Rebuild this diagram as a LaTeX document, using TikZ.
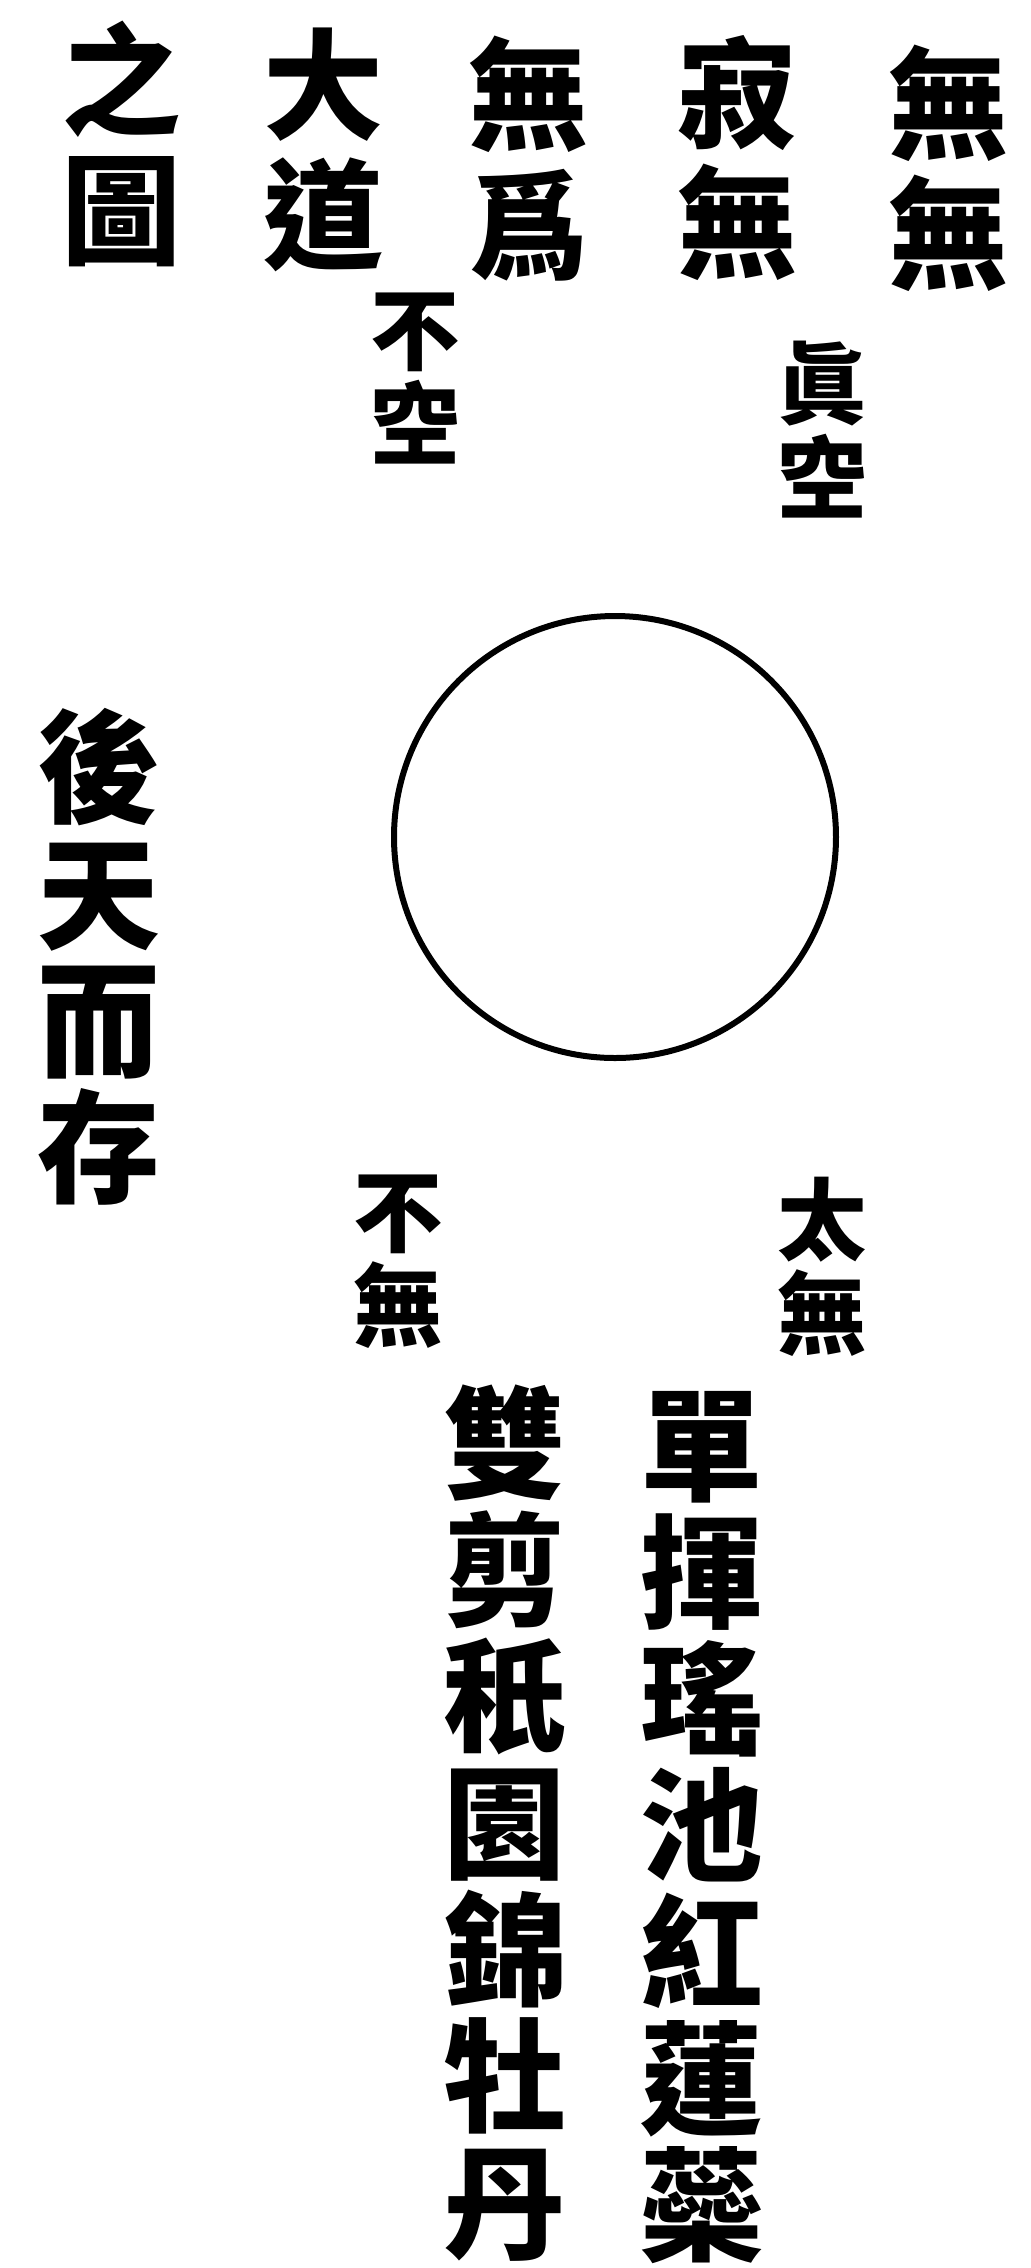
\documentclass[tikz,border=0pt]{standalone}
\usepackage{fontspec}
\newfontfamily\cjk{Noto Sans CJK TC}
\tikzset{every picture/.style={line width=0.75pt}}
\tikzset{
  titlecol/.style={align=center, inner sep=0pt, font=\cjk\bfseries\fontsize{90}{97.5}\selectfont},
  notecol/.style={align=center, inner sep=0pt, font=\cjk\bfseries\fontsize{67}{70.5}\selectfont},
  versecol/.style={align=center, inner sep=0pt, font=\cjk\bfseries\fontsize{92}{95}\selectfont},
}

\begin{document}
\begin{tikzpicture}[x=0.75pt,y=0.75pt,yscale=-1,xscale=1]
%set diagram left start at 0, and has height of 2268
\useasboundingbox (0,0) rectangle (1031,2268);

%Circle [id:dp0001]
\draw [line width=4.5pt]  (615,837) circle [radius=221] ;

% Text Node
\draw (948,168) node [titlecol] (wuwu) {無\\無};
% Text Node
\draw (737,158) node [titlecol] (jiwu) {寂\\無};
% Text Node
\draw (528,159) node [titlecol] (wuwei) {無\\爲};
% Text Node
\draw (323,150) node [titlecol] (dadao) {大\\道};
% Text Node
\draw (121,144) node [titlecol] (zhitu) {之\\圖};
% Text Node
\draw (415,379) node [notecol] (bukong) {不\\空};
% Text Node
\draw (822,430) node [notecol] (zhenkong) {眞\\空};
% Text Node
\draw (99,957) node [versecol] (houtian) {後\\天\\而\\存};
% Text Node
\draw (398,1262) node [notecol] (buwu) {不\\無};
% Text Node
\draw (822,1267) node [notecol] (taiwu) {太\\無};
% Text Node
\draw (505,1823) node [versecol] (shuangjian) {雙\\剪\\秖\\園\\錦\\牡\\丹};
% Text Node
\draw (702,1828) node [versecol] (danhui) {單\\揮\\瑤\\池\\紅\\蓮\\蘂};

\end{tikzpicture}
\end{document}
